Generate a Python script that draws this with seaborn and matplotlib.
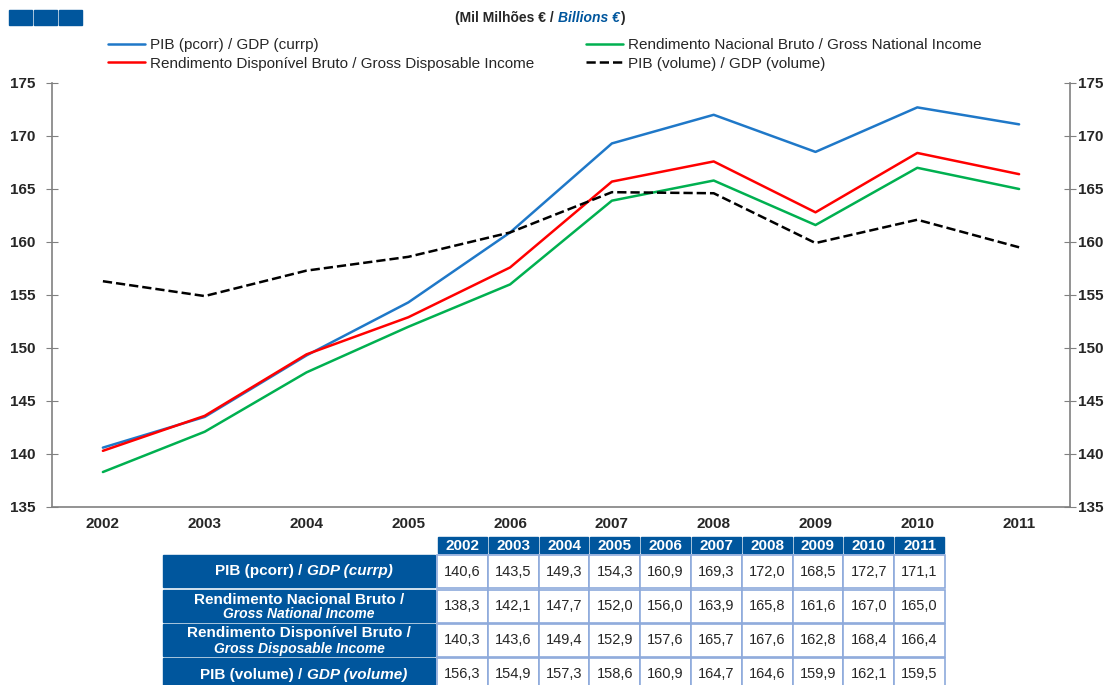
import numpy as np
import pandas as pd
import seaborn as sns
import matplotlib.pyplot as plt
from matplotlib.patches import Rectangle

years = ['2002', '2003', '2004', '2005', '2006', '2007', '2008', '2009', '2010', '2011']
gdp_curr = [140.6, 143.5, 149.3, 154.3, 160.9, 169.3, 172.0, 168.5, 172.7, 171.1]
gni = [138.3, 142.1, 147.7, 152.0, 156.0, 163.9, 165.8, 161.6, 167.0, 165.0]
gdi = [140.3, 143.6, 149.4, 152.9, 157.6, 165.7, 167.6, 162.8, 168.4, 166.4]
gdp_vol = [156.3, 154.9, 157.3, 158.6, 160.9, 164.7, 164.6, 159.9, 162.1, 159.5]

legend_labels = ['PIB (pcorr) / GDP (currp)',
                 'Rendimento Nacional Bruto / Gross National Income',
                 'Rendimento Disponível Bruto / Gross Disposable Income',
                 'PIB (volume) / GDP (volume)']
row_pt = ['PIB (pcorr) / ', 'Rendimento Nacional Bruto /',
          'Rendimento Disponível Bruto /', 'PIB (volume) / ']
row_en = ['GDP (currp)', 'Gross National Income',
          'Gross Disposable Income', 'GDP (volume)']

BLUE = '#00569d'
sns.set_style('white')
plt.rcParams['font.family'] = ['Liberation Sans', 'DejaVu Sans']

series = [gdp_curr, gni, gdi, gdp_vol]
colors = ['#1f78c8', '#00b050', '#ff0000', '#000000']
styles = ['-', '-', '-', '--']

fig = plt.figure(figsize=(11.08, 6.85), dpi=100)
ax = fig.add_axes([52 / 1108, 1 - 507 / 685, (1070 - 52) / 1108, (507 - 83) / 685])

x = np.arange(len(years))
for vals, lab, c, ls in zip(series, legend_labels, colors, styles):
    df = pd.DataFrame({'x': x, 'v': vals})
    sns.lineplot(data=df, x='x', y='v', ax=ax, color=c, lw=1.8, label=lab)
    ax.lines[-1].set_linestyle(ls)

ax.set_xlim(-0.5, len(years) - 0.5)
ax.set_ylim(135, 175)
yt = np.arange(135, 176, 5)
ax.set_yticks(yt)
ax.set_xticks(x)
ax.set_xticklabels(years, fontweight='bold', fontsize=11)
ax.set_xticks(np.arange(-0.5, len(years)), minor=True)
ax.tick_params(axis='x', which='major', length=0, pad=7)
ax.tick_params(axis='x', which='minor', length=5, direction='out', color='#808080')
ax.tick_params(axis='y', length=8, direction='inout', color='#808080', labelsize=11, pad=8)
for t in ax.get_yticklabels():
    t.set_fontweight('bold')
ax.set_xlabel('')
ax.set_ylabel('')
for s in ['left', 'right', 'bottom']:
    ax.spines[s].set_color('#808080')
    ax.spines[s].set_linewidth(1.2)
ax.spines['top'].set_visible(False)

# right axis, same scale
ax2 = ax.twinx()
ax2.set_ylim(135, 175)
ax2.set_yticks(yt)
ax2.tick_params(axis='y', length=8, direction='inout', color='#808080', labelsize=11, pad=2)
for t in ax2.get_yticklabels():
    t.set_fontweight('bold')
for s in ax2.spines.values():
    s.set_visible(False)

h, l = ax.get_legend_handles_labels()
order = [0, 2, 1, 3]
ax.legend([h[i] for i in order], [l[i] for i in order], ncol=2, frameon=False,
          loc='lower left', bbox_to_anchor=(0.049, 1.015), fontsize=11,
          handlelength=2.4, handletextpad=0.35, columnspacing=3.4, labelspacing=0.3,
          borderaxespad=0)

# title
t1 = fig.text(0.411, 0.973, '(Mil Milhões € / ', ha='left', va='center', fontsize=10, fontweight='bold')
a2 = ax.annotate('Billions €', xy=(1, 0.5), xycoords=t1, ha='left', va='center',
                 fontsize=10, fontweight='bold', style='italic', color=BLUE, annotation_clip=False)
ax.annotate(')', xy=(1, 0.5), xycoords=a2, ha='left', va='center', fontsize=10,
            fontweight='bold', annotation_clip=False)

# squares at top-left
sq = fig.add_axes([0, 0, 1, 1], zorder=-1)
sq.set_xlim(0, 1108)
sq.set_ylim(685, 0)
sq.axis('off')
for i in range(3):
    sq.add_patch(Rectangle((9 + i * 25, 10), 23, 15, color=BLUE))

# data table
tb = fig.add_axes([0, 0, 1, 1])
tb.set_xlim(0, 1108)
tb.set_ylim(685, 0)
tb.axis('off')
col0, colw = 437, 50.8
lab0, labw = 163, 272
for j, yr in enumerate(years):
    tb.add_patch(Rectangle((col0 + j * colw + 1, 537), colw - 2, 16, color=BLUE))
    tb.text(col0 + j * colw + colw / 2, 545.5, yr, color='white', fontsize=11,
            fontweight='bold', ha='center', va='center')
row_top = [555, 590, 624, 658]
row_h = 33
for i, vals in enumerate(series):
    y0 = row_top[i]
    tb.add_patch(Rectangle((lab0, y0), labw, row_h - 1, color=BLUE))
    cy = y0 + row_h / 2
    if i in (0, 3):
        tb.text(lab0 + labw / 2 + 8, cy, row_pt[i], color='white', fontsize=11,
                fontweight='bold', ha='right', va='center')
        tb.text(lab0 + labw / 2 + 8, cy, row_en[i], color='white', fontsize=11,
                fontweight='bold', style='italic', ha='left', va='center')
    else:
        tb.text(lab0 + labw / 2, cy - 7, row_pt[i], color='white', fontsize=11,
                fontweight='bold', ha='center', va='center')
        tb.text(lab0 + labw / 2, cy + 8, row_en[i], color='white', fontsize=10,
                fontweight='bold', style='italic', ha='center', va='center')
    for j, v in enumerate(vals):
        tb.add_patch(Rectangle((col0 + j * colw, y0), colw, row_h, facecolor='white',
                               edgecolor='#8eaadb', lw=1.2))
        tb.text(col0 + j * colw + colw / 2, cy, f'{v:.1f}'.replace('.', ','),
                fontsize=10.5, ha='center', va='center')

fig.savefig('out.png', dpi=100)
